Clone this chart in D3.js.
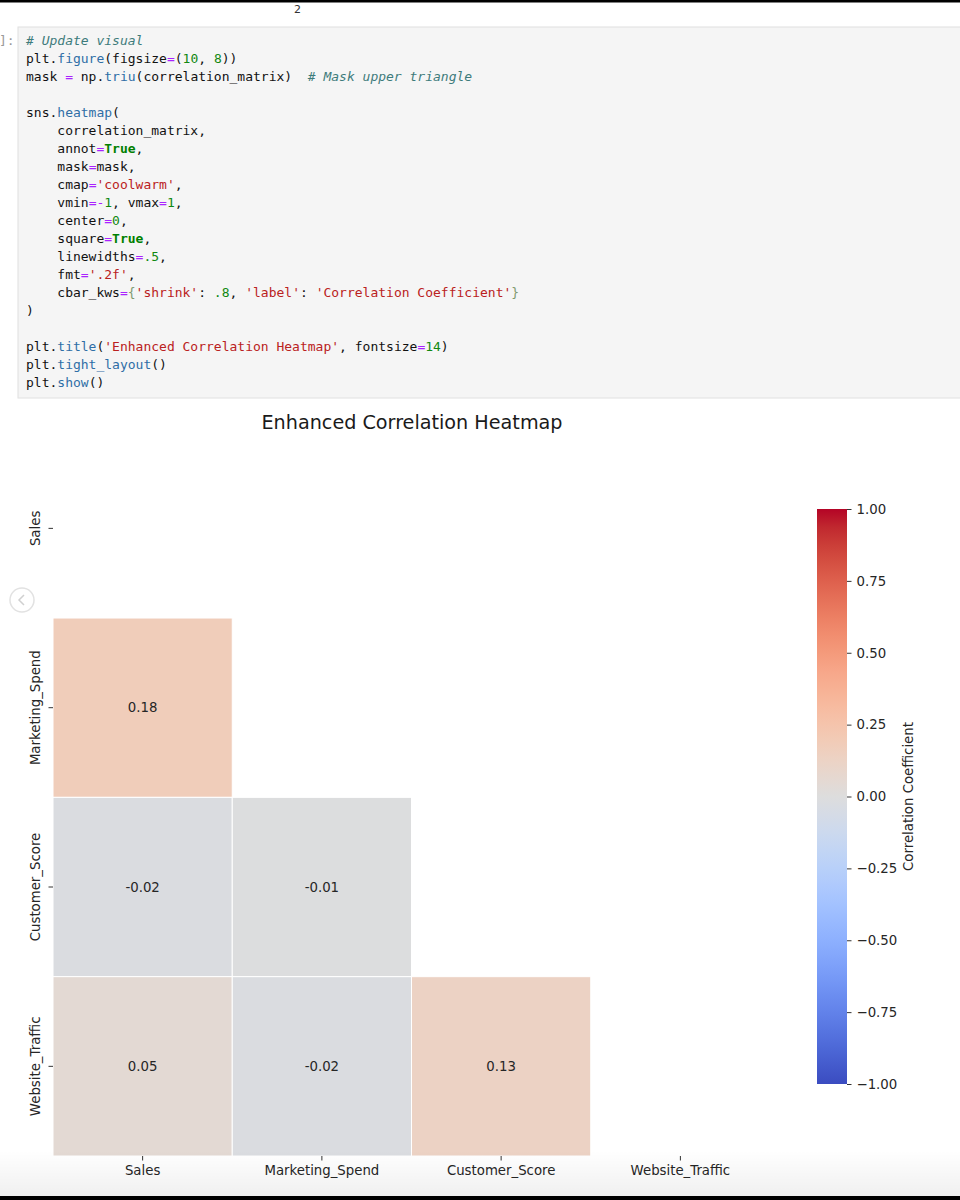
<!DOCTYPE html>
<html>
<head>
<meta charset="utf-8">
<script src="https://cdn.jsdelivr.net/npm/d3@7"></script>
<style>
  html, body { margin: 0; padding: 0; background: #fff; }
  svg { display: block; }
  .code text { font-family: "DejaVu Sans Mono", monospace; font-size: 13px; white-space: pre; }
</style>
</head>
<body>
<svg id="chart" width="960" height="1200"></svg>
<script>
// ---------------- data ----------------
const variables = ["Sales", "Marketing_Spend", "Customer_Score", "Website_Traffic"];
// lower triangle of the correlation matrix (row, col, value); upper triangle + diagonal are masked
const rowVars = ["Marketing_Spend", "Customer_Score", "Customer_Score", "Website_Traffic", "Website_Traffic", "Website_Traffic"];
const colVars = ["Sales", "Sales", "Marketing_Spend", "Sales", "Marketing_Spend", "Customer_Score"];
const corrValues = [0.18, -0.02, -0.01, 0.05, -0.02, 0.13];
const cbarTicks = [-1.00, -0.75, -0.50, -0.25, 0.00, 0.25, 0.50, 0.75, 1.00];
const titleText = "Enhanced Correlation Heatmap";
const cbarLabel = "Correlation Coefficient";

// coolwarm colormap stops (Moreland)
const coolwarm = ["#3b4cc0","#445acc","#4d68d7","#5775e1","#6282ea","#6c8ef1","#779af7","#82a5fb","#8db0fe","#98b9ff","#a3c2ff","#aec9fd","#b8d0f9","#c2d5f4","#ccd9ee","#d5dbe6","#dddddd","#e5d8d1","#ecd3c5","#f1ccb8","#f5c4ac","#f7bba0","#f7b194","#f7a689","#f49a7b","#f18d6f","#ec7f63","#e57058","#de604d","#d55042","#cb3e38","#c0282f","#b40426"];

// code cell tokens
const codeLines = [
  [["# Update visual","c"]],
  [["plt.","d"],["figure","p"],["(figsize","d"],["=","o"],["(","d"],["10","n"],[", ","d"],["8","n"],["))","d"]],
  [["mask ","d"],["=","o"],[" np.","d"],["triu","p"],["(correlation_matrix)  ","d"],["# Mask upper triangle","c"]],
  [],
  [["sns.","d"],["heatmap","p"],["(","d"]],
  [["    correlation_matrix,","d"]],
  [["    annot","d"],["=","o"],["True","k"],[",","d"]],
  [["    mask","d"],["=","o"],["mask,","d"]],
  [["    cmap","d"],["=","o"],["'coolwarm'","s"],[",","d"]],
  [["    vmin","d"],["=-","o"],["1","n"],[", vmax","d"],["=","o"],["1","n"],[",","d"]],
  [["    center","d"],["=","o"],["0","n"],[",","d"]],
  [["    square","d"],["=","o"],["True","k"],[",","d"]],
  [["    linewidths","d"],["=","o"],[".5","n"],[",","d"]],
  [["    fmt","d"],["=","o"],["'.2f'","s"],[",","d"]],
  [["    cbar_kws","d"],["=","o"],["{","b"],["'shrink'","s"],[": ","d"],[".8","n"],[", ","d"],["'label'","s"],[": ","d"],["'Correlation Coefficient'","s"],["}","b"]],
  [[")","d"]],
  [],
  [["plt.","d"],["title","p"],["(","d"],["'Enhanced Correlation Heatmap'","s"],[", fontsize","d"],["=","o"],["14","n"],[")","d"]],
  [["plt.","d"],["tight_layout","p"],["()","d"]],
  [["plt.","d"],["show","p"],["()","d"]]
];

// ---------------- drawing ----------------
const svg = d3.select("#chart");
const defs = svg.append("defs");

// --- notebook frame ---
const tokStyle = {
  c: {fill: "#3d7b7b", style: "italic", weight: "normal"},
  d: {fill: "#111111", style: "normal", weight: "normal"},
  p: {fill: "#2f6ea6", style: "normal", weight: "normal"},
  o: {fill: "#aa22ff", style: "normal", weight: "normal"},
  n: {fill: "#118811", style: "normal", weight: "normal"},
  k: {fill: "#008000", style: "normal", weight: "bold"},
  s: {fill: "#ba2121", style: "normal", weight: "normal"},
  b: {fill: "#7f9a6f", style: "normal", weight: "normal"}
};

svg.append("rect").attr("x", 18).attr("y", 27).attr("width", 960).attr("height", 371)
  .attr("fill", "#f5f5f5").attr("stroke", "#e0e0e0").attr("stroke-width", 1);
svg.append("text").attr("x", -1).attr("y", 44.5)
  .attr("font-family", "DejaVu Sans Mono, monospace").attr("font-size", 13).attr("fill", "#999")
  .text("]:");

const code = svg.append("g").attr("class", "code");
codeLines.forEach((line, i) => {
  const t = code.append("text").attr("x", 26).attr("y", 44.5 + i * 18.05).attr("xml:space", "preserve");
  line.forEach(([txt, cls]) => {
    const st = tokStyle[cls];
    t.append("tspan").attr("fill", st.fill).attr("font-style", st.style).attr("font-weight", st.weight).text(txt);
  });
});

// --- title ---
svg.append("text").attr("x", 412).attr("y", 429)
  .attr("text-anchor", "middle")
  .attr("font-family", "DejaVu Sans, sans-serif").attr("font-size", 19.2).attr("fill", "#1a1a1a")
  .text(titleText);

// --- heatmap ---
const hm = {left: 53, right: 770, top: 438.7, bottom: 1156};
const x = d3.scaleBand().domain(variables).range([hm.left, hm.right]).padding(0);
const y = d3.scaleBand().domain(variables).range([hm.top, hm.bottom]).padding(0);
const color = d3.scaleLinear()
  .domain(coolwarm.map((_, i) => -1 + 2 * i / (coolwarm.length - 1)))
  .range(coolwarm)
  .interpolate(d3.interpolateRgb)
  .clamp(true);

const cells = corrValues.map((v, i) => ({row: rowVars[i], col: colVars[i], value: v}));

const cellG = svg.append("g");
cellG.selectAll("rect").data(cells).join("rect")
  .attr("x", d => x(d.col))
  .attr("y", d => y(d.row))
  .attr("width", x.bandwidth())
  .attr("height", y.bandwidth())
  .attr("fill", d => color(d.value))
  .attr("stroke", "#ffffff")
  .attr("stroke-width", 1);

cellG.selectAll("text").data(cells).join("text")
  .attr("x", d => x(d.col) + x.bandwidth() / 2)
  .attr("y", d => y(d.row) + y.bandwidth() / 2)
  .attr("dy", "0.35em")
  .attr("text-anchor", "middle")
  .attr("font-family", "DejaVu Sans, sans-serif").attr("font-size", 13.3)
  .attr("fill", "#262626")
  .text(d => d3.format(".2f")(d.value).replace("−", "-"));

// axes
const xAxis = svg.append("g").attr("transform", `translate(0,${hm.bottom})`)
  .call(d3.axisBottom(x).tickSize(4.5).tickPadding(5));
xAxis.select(".domain").remove();
xAxis.selectAll("line").attr("stroke", "#333").attr("stroke-width", 1);
xAxis.selectAll("text").attr("font-family", "DejaVu Sans, sans-serif").attr("font-size", 13.3).attr("fill", "#262626");

const yAxis = svg.append("g").attr("transform", `translate(${hm.left},0)`)
  .call(d3.axisLeft(y).tickSize(4.5));
yAxis.select(".domain").remove();
yAxis.selectAll("line").attr("stroke", "#333").attr("stroke-width", 1);
yAxis.selectAll("text")
  .attr("x", null).attr("dy", null)
  .attr("text-anchor", "middle")
  .attr("transform", "translate(-13,0) rotate(-90)")
  .attr("font-family", "DejaVu Sans, sans-serif").attr("font-size", 13.3).attr("fill", "#262626");

// --- colorbar ---
const cb = {x: 817, w: 30, top: 509, bottom: 1084};
const grad = defs.append("linearGradient").attr("id", "cbgrad")
  .attr("x1", 0).attr("y1", 1).attr("x2", 0).attr("y2", 0);
grad.selectAll("stop").data(coolwarm).join("stop")
  .attr("offset", (d, i) => i / (coolwarm.length - 1))
  .attr("stop-color", d => d);
svg.append("rect").attr("x", cb.x).attr("y", cb.top).attr("width", cb.w).attr("height", cb.bottom - cb.top)
  .attr("fill", "url(#cbgrad)");

const cScale = d3.scaleLinear().domain([-1, 1]).range([cb.bottom, cb.top]);
const cAxis = svg.append("g").attr("transform", `translate(${cb.x + cb.w},0)`)
  .call(d3.axisRight(cScale).tickValues(cbarTicks).tickFormat(d3.format(".2f")).tickSize(4.5).tickPadding(5));
cAxis.select(".domain").remove();
cAxis.selectAll("line").attr("stroke", "#333").attr("stroke-width", 1);
cAxis.selectAll("text").attr("font-family", "DejaVu Sans, sans-serif").attr("font-size", 13.3).attr("fill", "#262626");

svg.append("text")
  .attr("transform", `translate(913,${(cb.top + cb.bottom) / 2}) rotate(-90)`)
  .attr("text-anchor", "middle")
  .attr("font-family", "DejaVu Sans, sans-serif").attr("font-size", 13.3).attr("fill", "#262626")
  .text(cbarLabel);

// --- viewer overlays (screenshot chrome) ---
const nav = svg.append("g").attr("transform", "translate(22,600)");
nav.append("circle").attr("r", 12).attr("fill", "#ffffff").attr("stroke", "#e2e2e2").attr("stroke-width", 1.5);
nav.append("path").attr("d", "M2,-5 L-3,0 L2,5").attr("fill", "none").attr("stroke", "#d0d0d0").attr("stroke-width", 1.5);

const fade = defs.append("linearGradient").attr("id", "fade").attr("x1", 0).attr("y1", 0).attr("x2", 0).attr("y2", 1);
fade.append("stop").attr("offset", 0).attr("stop-color", "#000").attr("stop-opacity", 0);
fade.append("stop").attr("offset", 1).attr("stop-color", "#000").attr("stop-opacity", 0.06);
svg.append("rect").attr("x", 0).attr("y", 1150).attr("width", 960).attr("height", 46).attr("fill", "url(#fade)");
svg.append("rect").attr("x", 0).attr("y", 1196).attr("width", 960).attr("height", 4).attr("fill", "#000");

svg.append("rect").attr("x", 0).attr("y", 0).attr("width", 960).attr("height", 2.5).attr("fill", "#000");
svg.append("text").attr("x", 294).attr("y", 13)
  .attr("font-family", "DejaVu Sans, sans-serif").attr("font-size", 11).attr("fill", "#333").text("2");
</script>
</body>
</html>
